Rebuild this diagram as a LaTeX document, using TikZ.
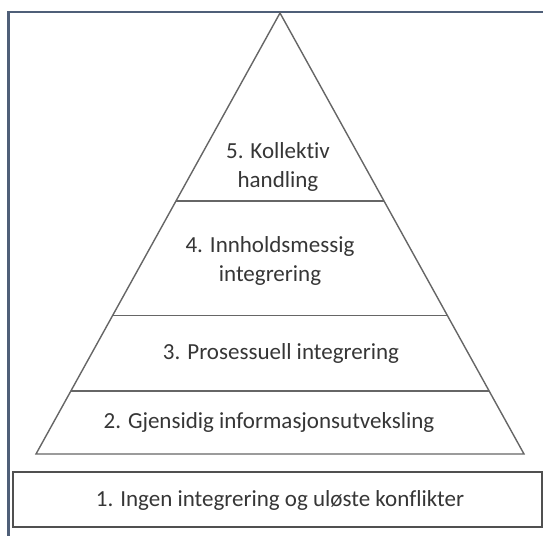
\documentclass[tikz,border=0pt]{standalone}
\usepackage{fontspec}
\setmainfont{Carlito}[Ligatures=NoCommon]
\usepackage{xcolor}
\usetikzlibrary{calc}
\definecolor{frame}{HTML}{4F5F78}
\definecolor{edge}{HTML}{666666}
\definecolor{boxline}{HTML}{505050}
\definecolor{txt}{HTML}{363636}
\tikzset{
  outline/.style={line width=2.2pt, draw=frame},
  tri/.style={line width=1.4pt, draw=edge, line join=miter},
  level/.style={line width=1.4pt, draw=edge},
  basebox/.style={line width=1.4pt, draw=boxline, inner sep=0pt},
  lbl/.style={text=txt, align=center, font=\fontsize{23}{28.5}\selectfont, inner sep=0pt}
}
\newcommand{\Cut}[2]{% name, fraction down from the apex
  \coordinate (#1l) at ($(apex)!#2!(bl)$);
  \coordinate (#1r) at ($(apex)!#2!(br)$);
  \draw[level] (#1l) -- (#1r);
}

\begin{document}
\begin{tikzpicture}[x=1pt,y=-1pt]
  \useasboundingbox (0,0) rectangle (543,535);
  \fill[white] (0,0) rectangle (543,535);
  % outer frame, only top and left edges are in view
  \draw[outline] (8.5,560) -- (8.5,12) -- (560,12);
  % pyramid
  \coordinate (apex) at (280,13);
  \coordinate (bl) at (36,454);
  \coordinate (br) at (524,454);
  \draw[tri] (bl) -- (apex) -- (br) -- cycle;
  \Cut{cutd}{0.4263}
  \Cut{cutc}{0.6864}
  \Cut{cutb}{0.8571}
  % levels
  \node[lbl] (lvlfive) at (278,167) {5. Kollektiv\\handling};
  \node[lbl] (lvlfour) at (270,261) {4. Innholdsmessig\\integrering};
  \node[lbl] (lvlthree) at (281,353) {3. Prosessuell integrering};
  \node[lbl] (lvltwo) at (269,422) {2. Gjensidig informasjonsutveksling};
  \node[basebox, minimum width=529pt, minimum height=55pt] (lvlone) at (277.5,499.5) {};
  \node[lbl] (lvlonetext) at (280,500) {1. Ingen integrering og uløste konflikter};
\end{tikzpicture}
\end{document}
